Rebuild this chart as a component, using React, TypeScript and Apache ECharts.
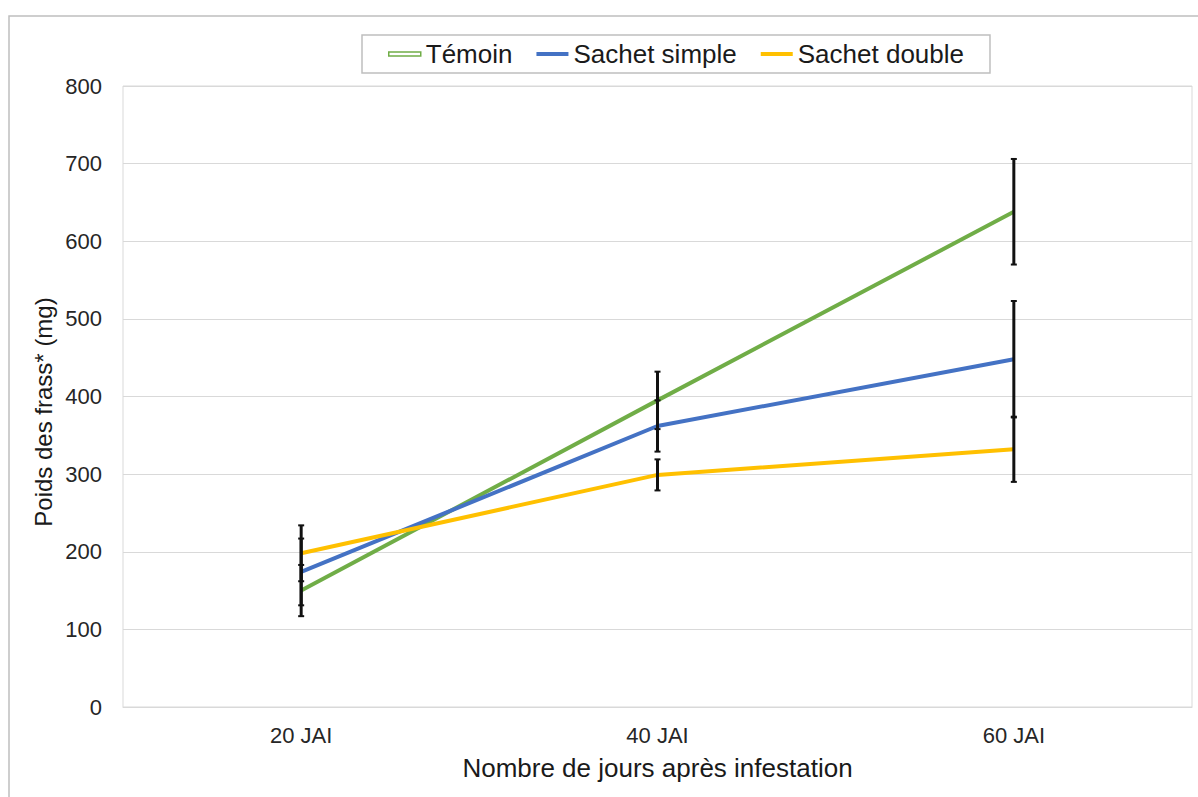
import React, { useEffect, useRef } from "react";
import * as echarts from "echarts";

const categories = ["20 JAI", "40 JAI", "60 JAI"];
const seriesNames = ["Témoin", "Sachet simple", "Sachet double"];
const temoin = [150, 395, 638];
const temoinErr = [33, 37, 68];
const simple = [174, 362, 448];
const simpleErr = [43, 33, 75];
const double = [198, 299, 332];
const doubleErr = [36, 20, 42];
const yTicks = [0, 100, 200, 300, 400, 500, 600, 700, 800];

const colors = ["#70ad47", "#4472c4", "#ffc000"];
const FONT = "Liberation Sans, Arial, sans-serif";

function errData(vals: number[], errs: number[]) {
  return vals.map((v, i) => [i, v - errs[i], v + errs[i]]);
}

export default function App() {
  const ref = useRef<HTMLDivElement>(null);
  useEffect(() => {
    if (!ref.current) return;
    const chart = echarts.init(ref.current, undefined, { renderer: "svg" });
    const renderErr = (params: any, api: any) => {
      const x = api.value(0);
      const lo = api.coord([x, api.value(1)]);
      const hi = api.coord([x, api.value(2)]);
      const w = 3;
      return {
        type: "group",
        children: [
          { type: "line", shape: { x1: lo[0], y1: lo[1], x2: hi[0], y2: hi[1] }, style: { stroke: "#111", lineWidth: 3 } },
          { type: "line", shape: { x1: lo[0] - w, y1: lo[1], x2: lo[0] + w, y2: lo[1] }, style: { stroke: "#111", lineWidth: 2 } },
          { type: "line", shape: { x1: hi[0] - w, y1: hi[1], x2: hi[0] + w, y2: hi[1] }, style: { stroke: "#111", lineWidth: 2 } },
        ],
      };
    };
    const lineVals = [temoin, simple, double];
    const errVals = [temoinErr, simpleErr, doubleErr];
    const option: any = {
      animation: false,
      backgroundColor: "#ffffff",
      textStyle: { fontFamily: FONT },
      grid: {
        left: 123,
        top: 86,
        width: 1069,
        height: 621,
        show: true,
        borderColor: "#d9d9d9",
        borderWidth: 1,
        containLabel: false,
      },
      legend: {
        left: 362,
        top: 35,
        padding: [6, 26, 6, 26],
        itemGap: 24,
        itemWidth: 32,
        itemHeight: 4,
        borderColor: "#bfbfbf",
        borderWidth: 1.5,
        textStyle: { fontSize: 26, color: "#1a1a1a", fontFamily: FONT },
        data: [
          { name: seriesNames[0], icon: "rect", itemStyle: { color: "#ffffff", borderColor: colors[0], borderWidth: 1.5 } },
          { name: seriesNames[1], icon: "rect" },
          { name: seriesNames[2], icon: "rect" },
        ],
      },
      xAxis: {
        type: "category",
        data: categories,
        boundaryGap: true,
        axisTick: { show: false },
        axisLine: { lineStyle: { color: "#d9d9d9" } },
        axisLabel: { fontSize: 22, color: "#262626", margin: 17, fontFamily: FONT },
        name: "Nombre de jours après infestation",
        nameLocation: "middle",
        nameGap: 48,
        nameTextStyle: { fontSize: 26, color: "#1a1a1a", fontFamily: FONT },
      },
      yAxis: {
        type: "value",
        min: yTicks[0],
        max: yTicks[yTicks.length - 1],
        interval: 100,
        axisLine: { show: false },
        axisTick: { show: false },
        splitLine: { lineStyle: { color: "#d9d9d9", width: 1 } },
        axisLabel: { fontSize: 22, color: "#262626", margin: 21, fontFamily: FONT },
      },
      graphic: [
        {
          type: "rect",
          shape: { x: 9, y: 16, width: 1400, height: 1000 },
          style: { fill: "none", stroke: "#bfbfbf", lineWidth: 1.5 },
          silent: true,
          z: -10,
        },
        {
          type: "text",
          x: 43,
          y: 412,
          rotation: Math.PI / 2,
          style: {
            text: "Poids des frass* (mg)",
            fontSize: 24,
            fill: "#1a1a1a",
            fontFamily: FONT,
            textAlign: "center",
            textVerticalAlign: "middle",
          },
        },
      ],
      series: [
        ...lineVals.map((vals, i) => ({
          name: seriesNames[i],
          type: "line",
          data: vals,
          symbol: "none",
          itemStyle: { color: colors[i] },
          lineStyle: { color: colors[i], width: 4 },
          z: 2,
        })),
        ...errVals.map((errs, i) => ({
          name: seriesNames[i] + " err",
          type: "custom",
          renderItem: renderErr,
          data: errData(lineVals[i], errs),
          encode: { x: 0, y: [1, 2] },
          z: 5,
          silent: true,
        })),
      ],
    };
    chart.setOption(option);
    return () => chart.dispose();
  }, []);
  return (
    <div
      ref={ref}
      style={{ position: "fixed", left: 0, top: 0, width: 1198, height: 797 }}
    />
  );
}
